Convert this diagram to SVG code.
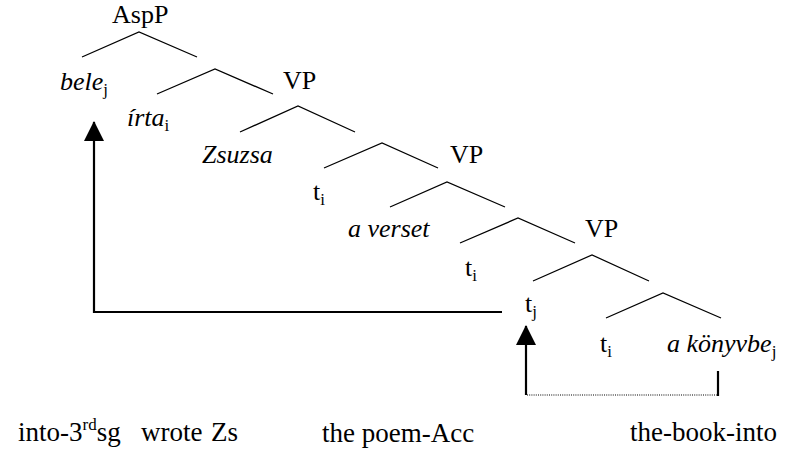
<svg xmlns="http://www.w3.org/2000/svg" width="796" height="450" viewBox="0 0 796 450">
  <style>
    text { font-family: Liberation Serif, Times New Roman, serif; font-size: 26px; fill: #000; }
    .it { font-style: italic; }
    .sub { font-size: 17px; font-style: normal; }
    .gloss { font-size: 27px; }
    .branch { fill: none; stroke: #000; stroke-width: 1.3; }
    .move { fill: none; stroke: #000; stroke-width: 2.2; }
    .dot { fill: none; stroke: #000; stroke-width: 1.2; stroke-dasharray: 1 1.2; }
  </style>
  <defs>
    <marker id="arrow" markerUnits="userSpaceOnUse" markerWidth="20" markerHeight="20" viewBox="0 0 20 20" refX="19" refY="10" orient="auto">
      <path d="M0,0 L20,10 L0,20 Z" fill="#000"/>
    </marker>
  </defs>

  <!-- tree branches -->
  <g id="branches">
    <polyline class="branch" points="82,57 139,32 197,57"/>
    <polyline class="branch" points="157,94 215,69 273,94"/>
    <polyline class="branch" points="240,132 298,106 355,132"/>
    <polyline class="branch" points="324,168 382,143 438,168"/>
    <polyline class="branch" points="390,207 447,182 505,207"/>
    <polyline class="branch" points="460,243 518,218 575,243"/>
    <polyline class="branch" points="533,281 592,255 649,281"/>
    <polyline class="branch" points="606,318 663,293 721,318"/>
  </g>

  <!-- nodes -->
  <g id="node-aspp"><text x="112" y="23" font-family="Liberation Serif">AspP</text></g>
  <g id="node-bele"><text x="60" y="90" class="it" font-family="Liberation Serif">bele<tspan class="sub" dy="5">j</tspan></text></g>
  <g id="node-vp1"><text x="283" y="89" font-family="Liberation Serif">VP</text></g>
  <g id="node-irta"><text x="127" y="126" class="it" font-family="Liberation Serif">írta<tspan class="sub" dy="5">i</tspan></text></g>
  <g id="node-zsuzsa"><text x="202" y="163" class="it" font-family="Liberation Serif">Zsuzsa</text></g>
  <g id="node-vp2"><text x="450" y="163" font-family="Liberation Serif">VP</text></g>
  <g id="node-ti1"><text x="313" y="200" font-family="Liberation Serif">t<tspan class="sub" dy="5">i</tspan></text></g>
  <g id="node-averset"><text x="348" y="237" class="it" font-family="Liberation Serif">a verset</text></g>
  <g id="node-vp3"><text x="585" y="237" font-family="Liberation Serif">VP</text></g>
  <g id="node-ti2"><text x="465" y="276" font-family="Liberation Serif">t<tspan class="sub" dy="5">i</tspan></text></g>
  <g id="node-tj"><text x="525" y="312" font-family="Liberation Serif">t<tspan class="sub" dy="5">j</tspan></text></g>
  <g id="node-ti3"><text x="600" y="352" font-family="Liberation Serif">t<tspan class="sub" dy="5">i</tspan></text></g>
  <g id="node-konyvbe"><text x="667" y="352" class="it" font-family="Liberation Serif">a könyvbe<tspan class="sub" dy="5">j</tspan></text></g>

  <!-- movement connectors -->
  <g id="connectors">
    <path class="move" d="M502,312 H94 V122" marker-end="url(#arrow)"/>
    <path class="move" d="M526,395 V326" marker-end="url(#arrow)"/>
    <line class="dot" x1="527" y1="395" x2="718" y2="395"/>
    <line class="move" x1="718" y1="371" x2="718" y2="396"/>
  </g>

  <!-- glosses -->
  <g id="glosses">
    <text x="18" y="441" class="gloss" font-family="Liberation Serif">into-3<tspan font-size="17" dy="-11">rd</tspan><tspan dy="11">sg</tspan><tspan x="141">wrote</tspan><tspan x="211">Zs</tspan></text>
    <text x="322" y="442" class="gloss" font-family="Liberation Serif">the poem-Acc</text>
    <text x="777" y="441" text-anchor="end" class="gloss" font-family="Liberation Serif">the-book-into</text>
  </g>
</svg>
